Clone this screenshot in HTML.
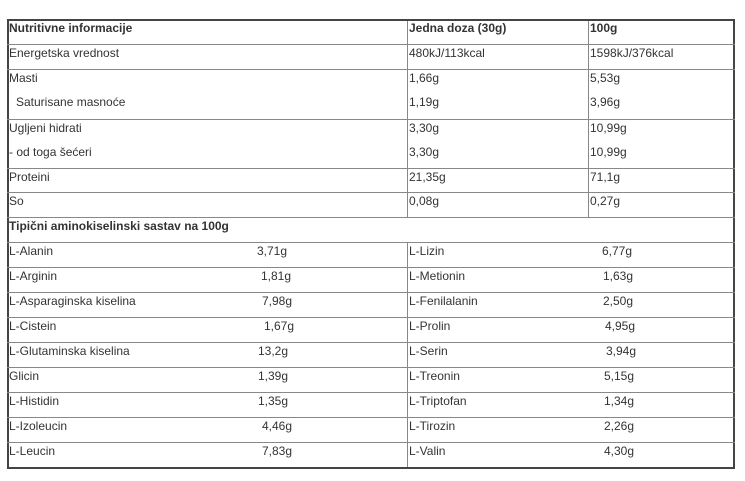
<!DOCTYPE html>
<html><head><meta charset="utf-8"><style>
html,body{margin:0;padding:0;background:#fff;width:745px;height:481px;overflow:hidden}
body{position:relative;font-family:"Liberation Sans",Arial,sans-serif;font-size:12px;color:#333}
.box{position:absolute;left:7px;top:19px;width:724px;height:446px;border:2px solid #444}
.h{position:absolute;left:7px;width:728px;height:1px;background:#888}
.v{position:absolute;width:1px;background:#888}
.t{position:absolute;line-height:16px;white-space:nowrap}
b{font-weight:bold}
</style></head><body>
<div class="box"></div>
<div class="h" style="top:44px"></div>
<div class="h" style="top:69px"></div>
<div class="h" style="top:119px"></div>
<div class="h" style="top:168px"></div>
<div class="h" style="top:192px"></div>
<div class="h" style="top:217px"></div>
<div class="h" style="top:242px"></div>
<div class="h" style="top:267px"></div>
<div class="h" style="top:292px"></div>
<div class="h" style="top:317px"></div>
<div class="h" style="top:342px"></div>
<div class="h" style="top:367px"></div>
<div class="h" style="top:392px"></div>
<div class="h" style="top:417px"></div>
<div class="h" style="top:442px"></div>
<div class="v" style="left:407px;top:21px;height:196px"></div>
<div class="v" style="left:588px;top:21px;height:196px"></div>
<div class="v" style="left:407px;top:242px;height:225px"></div>

<div class="t" style="left:9px;top:20px"><b>Nutritivne informacije</b></div>
<div class="t" style="left:409px;top:20px"><b>Jedna doza (30g)</b></div>
<div class="t" style="left:590px;top:20px"><b>100g</b></div>

<div class="t" style="left:9px;top:45px">Energetska vrednost</div>
<div class="t" style="left:409px;top:45px">480kJ/113kcal</div>
<div class="t" style="left:590px;top:45px">1598kJ/376kcal</div>

<div class="t" style="left:9px;top:70px">Masti</div>
<div class="t" style="left:409px;top:70px">1,66g</div>
<div class="t" style="left:590px;top:70px">5,53g</div>
<div class="t" style="left:16px;top:94px">Saturisane masnoće</div>
<div class="t" style="left:409px;top:94px">1,19g</div>
<div class="t" style="left:590px;top:94px">3,96g</div>

<div class="t" style="left:9px;top:120px">Ugljeni hidrati</div>
<div class="t" style="left:409px;top:120px">3,30g</div>
<div class="t" style="left:590px;top:120px">10,99g</div>
<div class="t" style="left:9px;top:144px">- od toga šećeri</div>
<div class="t" style="left:409px;top:144px">3,30g</div>
<div class="t" style="left:590px;top:144px">10,99g</div>

<div class="t" style="left:9px;top:169px">Proteini</div>
<div class="t" style="left:409px;top:169px">21,35g</div>
<div class="t" style="left:590px;top:169px">71,1g</div>

<div class="t" style="left:9px;top:193px">So</div>
<div class="t" style="left:409px;top:193px">0,08g</div>
<div class="t" style="left:590px;top:193px">0,27g</div>

<div class="t" style="left:9px;top:218px"><b>Tipični aminokiselinski sastav na 100g</b></div>

<div class="t" style="left:9px;top:243px">L-Alanin</div><div class="t" style="left:257px;top:243px">3,71g</div>
<div class="t" style="left:409px;top:243px">L-Lizin</div><div class="t" style="left:602px;top:243px">6,77g</div>

<div class="t" style="left:9px;top:268px">L-Arginin</div><div class="t" style="left:261px;top:268px">1,81g</div>
<div class="t" style="left:409px;top:268px">L-Metionin</div><div class="t" style="left:603px;top:268px">1,63g</div>

<div class="t" style="left:9px;top:293px">L-Asparaginska kiselina</div><div class="t" style="left:262px;top:293px">7,98g</div>
<div class="t" style="left:409px;top:293px">L-Fenilalanin</div><div class="t" style="left:603px;top:293px">2,50g</div>

<div class="t" style="left:9px;top:318px">L-Cistein</div><div class="t" style="left:264px;top:318px">1,67g</div>
<div class="t" style="left:409px;top:318px">L-Prolin</div><div class="t" style="left:605px;top:318px">4,95g</div>

<div class="t" style="left:9px;top:343px">L-Glutaminska kiselina</div><div class="t" style="left:258px;top:343px">13,2g</div>
<div class="t" style="left:409px;top:343px">L-Serin</div><div class="t" style="left:606px;top:343px">3,94g</div>

<div class="t" style="left:9px;top:368px">Glicin</div><div class="t" style="left:258px;top:368px">1,39g</div>
<div class="t" style="left:409px;top:368px">L-Treonin</div><div class="t" style="left:604px;top:368px">5,15g</div>

<div class="t" style="left:9px;top:393px">L-Histidin</div><div class="t" style="left:258px;top:393px">1,35g</div>
<div class="t" style="left:409px;top:393px">L-Triptofan</div><div class="t" style="left:604px;top:393px">1,34g</div>

<div class="t" style="left:9px;top:418px">L-Izoleucin</div><div class="t" style="left:262px;top:418px">4,46g</div>
<div class="t" style="left:409px;top:418px">L-Tirozin</div><div class="t" style="left:604px;top:418px">2,26g</div>

<div class="t" style="left:9px;top:443px">L-Leucin</div><div class="t" style="left:262px;top:443px">7,83g</div>
<div class="t" style="left:409px;top:443px">L-Valin</div><div class="t" style="left:604px;top:443px">4,30g</div>
</body></html>
